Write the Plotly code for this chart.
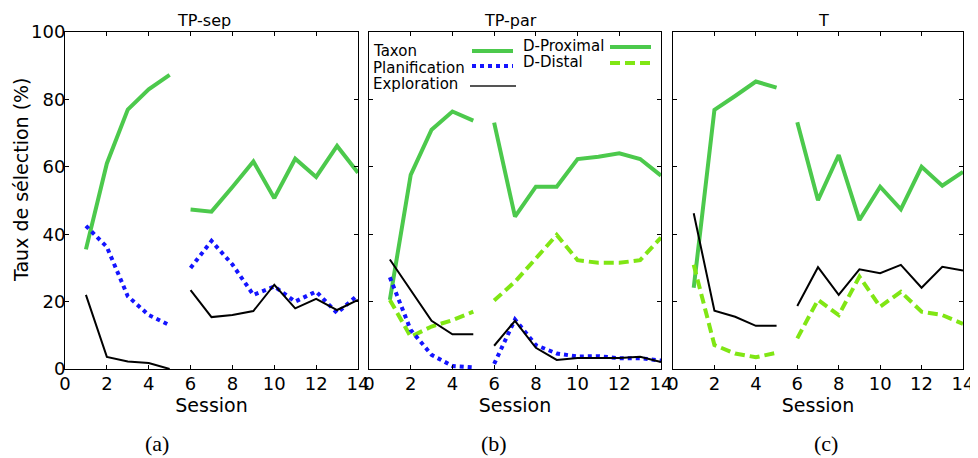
import plotly.graph_objects as go

# the page body keeps an 8px margin, so the figure is drawn 8px smaller
# and every reference position is shifted by that offset
OFF = 8
W, H = 978 - OFF, 458 - OFF

sessions = list(range(1, 15))

# TP-sep
sep_taxon = [35.5, 61, 77, 83, 87.3, 47.3, 46.7, 54, 61.6, 50.7, 62.4, 57, 66.2, 58.2]
sep_plan = [42.5, 36.2, 21.6, 16, 13, 30, 38, 31, 22, 24.5, 20, 23, 16.6, 22]
sep_expl = [22, 3.6, 2.2, 1.8, 0, 23.4, 15.4, 16, 17.2, 25, 18, 20.8, 17.5, 20.5]

# TP-par
par_taxon = [20.5, 57.6, 71, 76.4, 73.7, 73.1, 45.2, 54.1, 54.1, 62.3, 63, 64, 62.3, 57.4]
par_distal = [20.5, 9.6, 12.6, 14.5, 17, 20.3, 25.9, 32.8, 39.8, 32.3, 31.5, 31.5, 32.3, 39]
par_plan = [27.2, 11.6, 4.2, 0.9, 0.5, 1.5, 14.7, 7.1, 4.6, 3.7, 3.8, 3.2, 3.2, 2.5]
par_expl = [32.5, 23.4, 14.3, 10.3, 10.3, 6.9, 14.3, 6.3, 2.7, 3.3, 3.3, 3.3, 3.6, 2.1]

# T
t_proximal = [24.1, 76.9, 81, 85.3, 83.5, 73.2, 50.1, 63.5, 44.2, 54.1, 47.4, 60, 54.4, 58.5]
t_distal = [30.9, 7.1, 4.6, 3.5, 4.8, 9.1, 20.5, 16, 27.4, 18.5, 22.9, 17, 16, 13.4]
t_expl = [46.2, 17.3, 15.5, 12.8, 12.8, 18.7, 30.2, 22, 29.6, 28.4, 30.9, 24.1, 30.3, 29.2]

x_ticks = list(range(0, 15, 2))
y_ticks = list(range(0, 101, 20))

GREEN = "#4cc94c"
LIGHT = "#80e614"
BLUE = "#1414ff"
BLACK = "#000000"

styles = {
    "taxon": dict(color=GREEN, width=4),
    "distal": dict(color=LIGHT, width=4, dash="10px,5px"),
    "plan": dict(color=BLUE, width=4, dash="dot"),
    "expl": dict(color=BLACK, width=2),
}


def px(x):
    return (x - OFF) / W


def py(y):
    return 1 - (y - OFF) / H


def split(values):
    # sessions 1-5 and 6-14 are drawn as two separate pieces
    xs = sessions[:5] + [None] + sessions[5:]
    ys = values[:5] + [None] + values[5:]
    return xs, ys


panels = [
    ("TP-sep", [("taxon", sep_taxon), ("plan", sep_plan), ("expl", sep_expl)]),
    ("TP-par", [("taxon", par_taxon), ("distal", par_distal), ("plan", par_plan), ("expl", par_expl)]),
    ("T", [("taxon", t_proximal), ("distal", t_distal), ("expl", t_expl)]),
]

domains_x = [(65, 358), (369, 661), (673, 963)]
top, bottom = 32, 369

fig = go.Figure()
font = "DejaVu Sans"

for i, (name, series) in enumerate(panels):
    n = "" if i == 0 else str(i + 1)
    for key, vals in series:
        xs, ys = split(vals)
        fig.add_trace(go.Scatter(x=xs, y=ys, mode="lines", line=styles[key],
                                 xaxis="x" + n, yaxis="y" + n, showlegend=False,
                                 connectgaps=False))
    x0, x1 = domains_x[i]
    axis_common = dict(showline=True, linecolor="black", linewidth=1, mirror="ticks",
                       ticks="inside", ticklen=4, tickcolor="black", showgrid=False,
                       zeroline=False, automargin=False,
                       tickfont=dict(family=font, size=18, color="black"))
    fig.layout["xaxis" + n] = dict(axis_common, domain=[px(x0), px(x1)], range=[0, 14],
                                   tickvals=x_ticks, anchor="y" + n, ticklabelstandoff=-2,
                                   title=dict(text="Session", standoff=4,
                                              font=dict(family=font, size=19, color="black")))
    fig.layout["yaxis" + n] = dict(axis_common, domain=[py(bottom), py(top)],
                                   range=[0, 100], tickvals=y_ticks, anchor="x" + n,
                                   ticklabelstandoff=-5, showticklabels=(i == 0))

titles = [("TP-sep", 204), ("TP-par", 510), ("T", 823)]
captions = [("(a)", 157), ("(b)", 494), ("(c)", 826)]

ann = []
for text, cx in titles:
    ann.append(dict(text=text, x=px(cx), y=py(21), xref="paper", yref="paper",
                    xanchor="center", yanchor="middle", showarrow=False,
                    font=dict(family=font, size=16, color="black")))
for text, cx in captions:
    ann.append(dict(text=text, x=px(cx), y=py(443), xref="paper", yref="paper",
                    xanchor="center", yanchor="middle", showarrow=False,
                    font=dict(family="Liberation Serif", size=22, color="black")))
ann.append(dict(text="Taux de sélection (%)", x=px(21), y=py(180), xref="paper", yref="paper",
                xanchor="center", yanchor="middle", textangle=-90, showarrow=False,
                font=dict(family=font, size=19, color="black")))

# legend drawn by hand inside TP-par: label left, line sample right
legend_items = [
    ("Taxon", 371, 51, 472, 513, 51, "taxon"),
    ("Planification", 371, 68, 472, 513, 66, "plan"),
    ("Exploration", 371, 84, 470, 516, 86, "expl"),
    ("D-Proximal", 521, 46, 610, 651, 47, "taxon"),
    ("D-Distal", 521, 62, 610, 651, 63, "distal"),
]
shapes = []
for label, tx, ty, lx0, lx1, ly, key in legend_items:
    ann.append(dict(text=label, x=px(tx), y=py(ty), xref="paper", yref="paper",
                    xanchor="left", yanchor="middle", showarrow=False,
                    font=dict(family=font, size=15, color="black")))
    st = styles[key]
    shapes.append(dict(type="line", xref="paper", yref="paper",
                       x0=px(lx0), x1=px(lx1), y0=py(ly), y1=py(ly),
                       line=dict(color="#555555" if key == "expl" else st["color"],
                                 width=st["width"], dash=st.get("dash", "solid"))))

fig.update_layout(width=W, height=H, margin=dict(l=0, r=0, t=0, b=0),
                  plot_bgcolor="white", paper_bgcolor="white",
                  annotations=ann, shapes=shapes)

fig.write_html("out.html")
